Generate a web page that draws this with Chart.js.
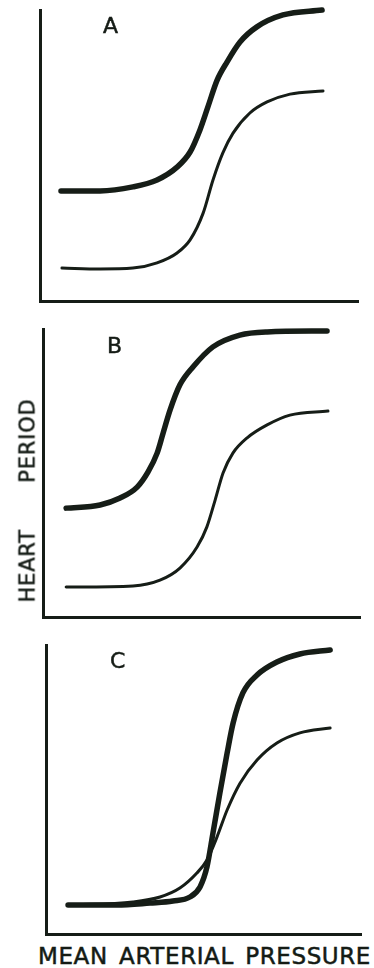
<!DOCTYPE html>
<html>
<head>
<meta charset="utf-8">
<script src="https://cdn.jsdelivr.net/npm/chart.js@4/dist/chart.umd.min.js"></script>
<style>
  html, body { margin: 0; padding: 0; background: #ffffff; }
  #page { position: relative; width: 374px; height: 968px; overflow: hidden; background: #ffffff; }
  canvas { position: absolute; left: 0; }
  .txt { position: absolute; font-family: "DejaVu Sans", "Liberation Sans", sans-serif; color: #141b15;
         -webkit-text-stroke: 0.5px #141b15; line-height: 1; white-space: nowrap; }
  .panel-letter { font-size: 22px; }
  .axis-title { display: flex; justify-content: space-between; }
</style>
</head>
<body>
<div id="page">
  <canvas id="chartA" width="374" height="320" style="top:0px;width:374px;height:320px"></canvas>
  <canvas id="chartB" width="374" height="310" style="top:320px;width:374px;height:310px"></canvas>
  <canvas id="chartC" width="374" height="310" style="top:630px;width:374px;height:310px"></canvas>

  <div class="txt panel-letter" style="left:103px;top:15px">A</div>
  <div class="txt panel-letter" style="left:107px;top:335px">B</div>
  <div class="txt panel-letter" style="left:110px;top:650px">C</div>

  <div class="txt axis-title"
       style="font-size:21px;letter-spacing:0.8px;width:204px;height:21px;left:-74.5px;top:489.5px;transform:rotate(-90deg);">
    <span>HEART</span><span>PERIOD</span>
  </div>
  <div class="txt axis-title"
       style="font-size:23px;letter-spacing:0.6px;width:333px;left:38px;top:945px;">
    <span>MEAN</span><span>ARTERIAL</span><span>PRESSURE</span>
  </div>
</div>

<script>
// Mean arterial pressure (x) and heart period (y), arbitrary units 0-100.
// Each panel shows a bold curve and a thin curve.

// Panel A
const aBoldPressure = [6.6, 18.9, 29.2, 36.8, 43.1, 47.2, 50.3, 52.8, 55.7, 58.8, 62.9, 68.2, 76.4, 88.7];
const aBoldPeriod   = [37.8, 37.8, 39.2, 41.6, 46.0, 51.2, 58.8, 66.7, 75.9, 82.1, 89.0, 94.2, 98.3, 100];
const aThinPressure = [6.9, 18.9, 29.2, 36.8, 43.1, 47.2, 51.3, 54.4, 57.5, 60.7, 66.0, 71.4, 78.6, 89.0];
const aThinPeriod   = [11.3, 11.0, 11.3, 13.1, 16.5, 21.0, 30.2, 41.6, 50.9, 57.7, 64.6, 68.4, 71.1, 72.2];

// Panel B
const bBoldPressure = [7.3, 18.0, 24.3, 29.7, 33.1, 36.0, 37.9, 40.1, 43.2, 47.3, 53.6, 62.1, 70.7, 89.6];
const bBoldPeriod   = [37.8, 38.9, 41.3, 45.1, 50.3, 56.9, 63.9, 71.9, 80.6, 86.8, 93.8, 97.9, 99.0, 99.3];
const bThinPressure = [7.3, 28.4, 36.9, 43.2, 48.6, 51.7, 54.3, 56.8, 59.9, 64.4, 70.7, 77.9, 89.9];
const bThinPeriod   = [10.4, 10.8, 12.8, 17.0, 24.3, 31.3, 40.6, 50.0, 56.9, 62.2, 66.7, 70.1, 71.5];

// Panel C
const cBoldPressure = [7.0, 22.5, 33.0, 40.3, 45.7, 48.9, 51.1, 53.0, 55.2, 57.5, 59.4, 62.5, 67.0, 73.3, 80.6, 90.2];
const cBoldPeriod   = [10.0, 10.0, 10.7, 11.4, 12.8, 16.3, 23.2, 34.9, 48.8, 62.6, 73.0, 83.4, 89.6, 94.1, 96.9, 98.3];
const cThinPressure = [7.0, 27.6, 36.2, 42.5, 47.9, 51.1, 54.3, 57.5, 61.6, 67.0, 73.3, 80.6, 90.2];
const cThinPeriod   = [10.0, 11.1, 12.8, 15.9, 21.1, 25.6, 33.6, 42.9, 52.2, 60.2, 66.1, 69.6, 71.3];

const INK = '#161d17';

function toPoints(xs, ys) {
  return xs.map((x, i) => ({ x: x, y: ys[i] }));
}

function curve(xs, ys, width) {
  return {
    data: toPoints(xs, ys),
    borderColor: INK,
    borderWidth: width,
    borderCapStyle: 'round',
    borderJoinStyle: 'round',
    pointRadius: 0,
    fill: false,
    cubicInterpolationMode: 'monotone',
    clip: false
  };
}

function axis(extra) {
  return Object.assign({
    type: 'linear',
    min: 0,
    max: 100,
    grid: { display: false, drawTicks: false },
    ticks: { display: false },
    border: { display: true, color: INK, width: 3 }
  }, extra || {});
}

function panel(id, boldX, boldY, thinX, thinY, padding) {
  return new Chart(document.getElementById(id), {
    type: 'line',
    data: {
      datasets: [
        curve(boldX, boldY, 5.5),
        curve(thinX, thinY, 3)
      ]
    },
    options: {
      responsive: false,
      animation: false,
      devicePixelRatio: 1,
      layout: { padding: padding, autoPadding: false },
      plugins: { legend: { display: false }, tooltip: { enabled: false } },
      scales: {
        x: axis({ position: 'bottom' }),
        y: axis({ position: 'left' })
      }
    }
  });
}

panel('chartA', aBoldPressure, aBoldPeriod, aThinPressure, aThinPeriod,
      { left: 40, top: 10, right: 16, bottom: 19 });
panel('chartB', bBoldPressure, bBoldPeriod, bThinPressure, bThinPeriod,
      { left: 43, top: 9, right: 14, bottom: 13 });
panel('chartC', cBoldPressure, cBoldPeriod, cThinPressure, cThinPeriod,
      { left: 46, top: 15, right: 13, bottom: 6 });
</script>
</body>
</html>
